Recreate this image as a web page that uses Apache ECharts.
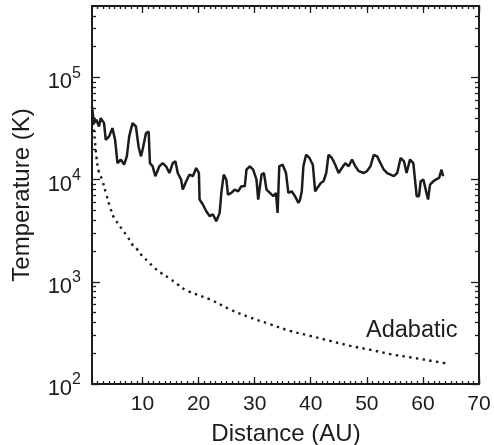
<!DOCTYPE html>
<html>
<head>
<meta charset="utf-8">
<script src="https://cdn.jsdelivr.net/npm/echarts@6/dist/echarts.min.js"></script>
<style>
html,body{margin:0;padding:0;background:#fff;}
#c{width:494px;height:445px;}
</style>
</head>
<body>
<div id="c"></div>
<script>
// Measured temperature profile (Distance in AU, Temperature in K)
const distance = [1.0,1.36,1.78,2.25,2.55,3.15,3.45,4.05,4.64,5.12,5.54,6.14,6.73,7.21,7.63,8.23,8.83,9.30,9.72,10.02,10.62,11.10,11.33,11.81,12.29,13.01,13.60,14.20,14.80,15.40,15.87,16.29,16.89,17.19,17.79,18.38,18.98,19.58,20.06,20.18,20.77,21.37,21.97,22.57,23.16,23.76,24.06,24.48,24.95,25.25,25.85,26.45,27.05,27.64,28.24,28.54,29.14,29.73,30.33,30.63,31.23,31.65,32.12,32.72,33.32,33.80,34.09,34.39,34.99,35.59,36.01,36.60,37.20,37.80,38.10,38.40,38.69,39.17,39.77,40.37,40.79,41.38,41.80,42.28,42.76,43.17,43.77,44.37,44.97,45.56,46.16,46.76,47.36,47.95,48.55,49.45,50.04,50.64,51.24,51.84,52.43,53.03,53.63,54.23,54.82,55.42,56.02,56.62,57.09,57.69,58.29,58.59,58.89,59.30,59.60,60.08,60.50,60.92,61.27,61.87,62.30,62.89,63.31,63.61];
const temperature = [51900,35700,38500,33100,40000,35700,24500,26500,31900,24500,14500,15700,14000,16900,26500,35700,33100,21100,16900,19600,28500,29600,14500,13500,10800,13500,14500,13500,11600,14500,15100,11600,10000,7980,9640,11200,10800,13000,11600,6380,5710,4910,4390,4560,3920,4730,7410,11200,10000,7140,7410,7980,7690,8610,8610,12500,13500,12500,10000,6380,11200,11600,7980,7410,6880,7410,4730,13500,14000,11600,7410,7690,6880,5920,6380,7690,13500,17500,16300,14000,7690,8610,9280,9640,11600,17500,16300,14000,11600,13000,14500,13500,15700,13500,12100,11600,12100,13500,17500,16900,14500,12500,11600,11200,10800,11600,16300,15100,11600,15700,14500,10000,6880,6880,9640,10000,7980,6380,8940,9640,10000,10400,12500,10800];

// Adiabatic curve
const adiabDistance = [1.2,1.36,1.66,1.77,2.20,2.79,3.56,4.17,4.89,5.78,6.38,7.27,8.17,9.06,9.96,11.16,12.06,13.24,15.03,16.23,18.03,21.97,25.55,29.14,32.72,36.30,39.89,43.47,47.06,50.64,54.23,57.81,61.39,64.67];
const adiabTemp = [36000,29600,19600,16900,12000,10000,7140,5500,4260,3640,3250,2800,2320,2070,1790,1550,1380,1230,1060,946,813,675,539,448,385,331,296,264,236,216,196,182,169,157];

// Axis ticks and labels
const xMajor = [10,20,30,40,50,60,70];
const yMajor = [100,1000,10000,100000];
const yMinor = [200,300,400,500,600,700,800,900,2000,3000,4000,5000,6000,7000,8000,9000,20000,30000,40000,50000,60000,70000,80000,90000,200000,300000,400000];

const ink = '#1c1c1c';
const font = 'Liberation Sans, Arial, Helvetica, sans-serif';

const solidData = distance.map((d, i) => [d, temperature[i]]);
const adiabData = adiabDistance.map((d, i) => [d, adiabTemp[i]]);

function xAx(pos, major, labels) {
  const a = {
    type: 'value', position: pos, min: 1, max: 70,
    axisLine: { show: major, onZero: false, lineStyle: { color: ink, width: 2 } },
    splitLine: { show: false },
    axisTick: { show: true, inside: true, length: major ? 7 : 3, lineStyle: { color: ink, width: 1.3 } },
    axisLabel: { show: false }
  };
  if (major) {
    a.axisTick.customValues = xMajor;
    if (labels) {
      a.axisLabel = { show: true, customValues: xMajor, color: ink, fontFamily: font, fontSize: 21, margin: 10 };
    }
  } else {
    a.interval = 1;
  }
  return a;
}
function yAx(pos, major, labels) {
  const a = {
    type: 'log', logBase: 10, position: pos, min: 100, max: 500000,
    axisLine: { show: major, onZero: false, lineStyle: { color: ink, width: 2 } },
    splitLine: { show: false },
    minorTick: { show: false },
    axisTick: { show: true, inside: true, length: major ? 8 : 4, customValues: major ? yMajor : yMinor, lineStyle: { color: ink, width: 1.3 } },
    axisLabel: { show: false }
  };
  if (labels) {
    a.axisLabel = {
      show: true, customValues: yMajor, margin: 11,
      formatter: v => '{b|10}{s|' + Math.round(Math.log10(v)) + '}',
      rich: {
        b: { fontSize: 22, fontFamily: font, color: ink, padding: [10, 0, 0, 0] },
        s: { fontSize: 16, fontFamily: font, color: ink, padding: [0, 0, 8, 0] }
      }
    };
  }
  return a;
}

const chart = echarts.init(document.getElementById('c'), null, { renderer: 'canvas' });
chart.setOption({
  animation: false,
  backgroundColor: '#ffffff',
  grid: { left: 92, right: 15, top: 6, bottom: 61, containLabel: false },
  xAxis: [xAx('bottom', true, true), xAx('bottom', false), xAx('top', true, false), xAx('top', false)],
  yAxis: [yAx('left', true, true), yAx('left', false), yAx('right', true, false), yAx('right', false)],
  graphic: [
    { type: 'text', x: 286, y: 422, style: { text: 'Distance (AU)', fill: ink, font: '24px ' + font, textAlign: 'center' } },
    { type: 'text', x: 22, y: 195, rotation: Math.PI / 2, style: { text: 'Temperature (K)', fill: ink, font: '24px ' + font, textAlign: 'center', textVerticalAlign: 'middle' } },
    { type: 'text', left: 366, top: 319, style: { text: 'Adabatic', fill: ink, font: '23.5px ' + font } }
  ],
  series: [
    {
      type: 'line', xAxisIndex: 0, yAxisIndex: 0, data: solidData, showSymbol: false,
      lineStyle: { color: ink, width: 2.5 }
    },
    {
      type: 'line', xAxisIndex: 0, yAxisIndex: 0, data: adiabData, showSymbol: false, smooth: 0.4,
      lineStyle: { color: ink, width: 2.4, type: [2.4, 4.4] }
    }
  ]
});
</script>
</body>
</html>
